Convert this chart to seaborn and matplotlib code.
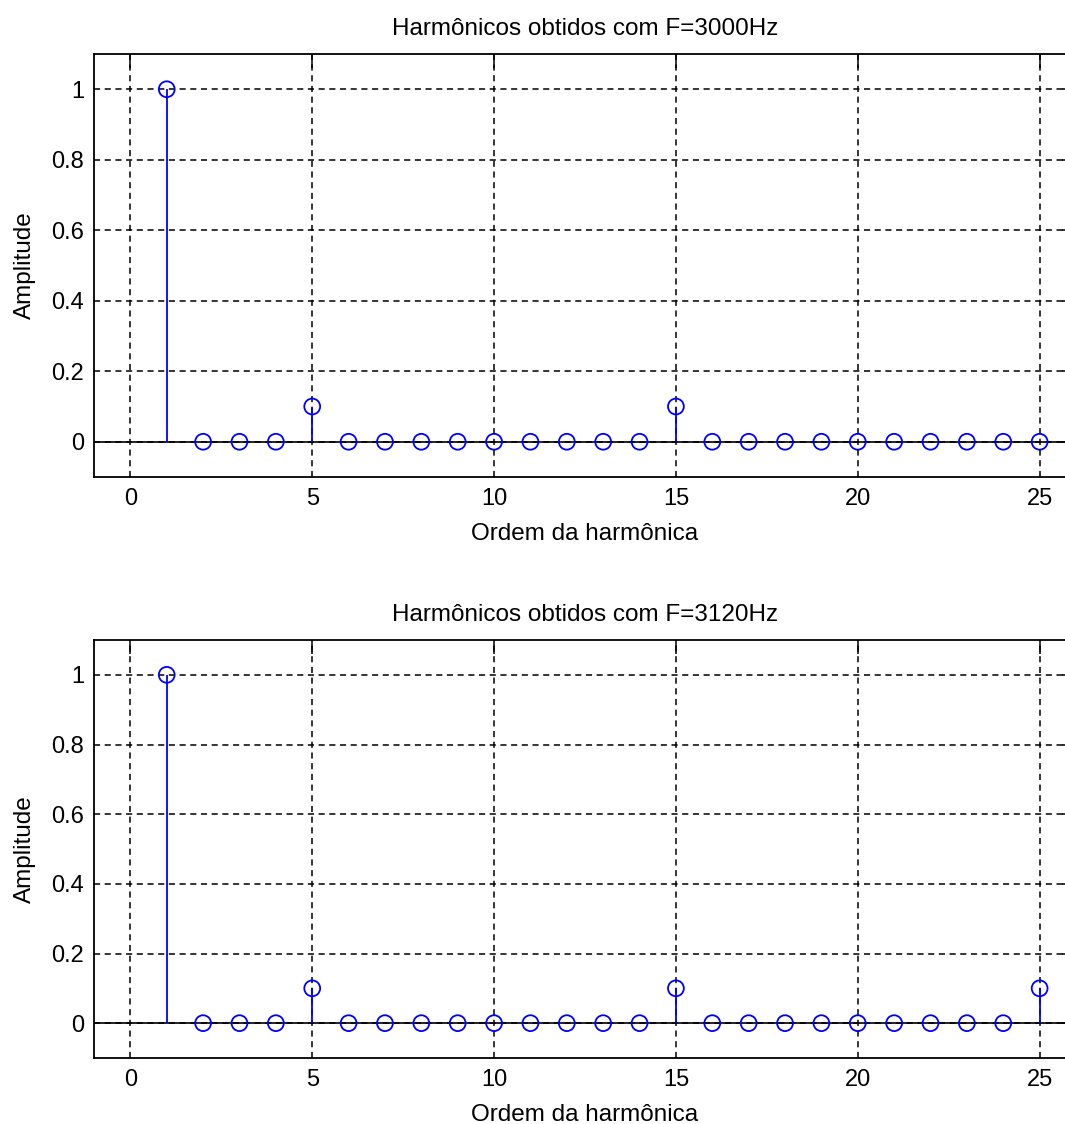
import matplotlib
matplotlib.use('Agg')
import matplotlib.pyplot as plt
import seaborn as sns
import numpy as np

# harmonic order and amplitudes
harmonics = list(range(1, 26))
amp_3000 = [1.0, 0, 0, 0, 0.1, 0, 0, 0, 0, 0, 0, 0, 0, 0, 0.1,
            0, 0, 0, 0, 0, 0, 0, 0, 0, 0]
amp_3120 = [1.0, 0, 0, 0, 0.1, 0, 0, 0, 0, 0, 0, 0, 0, 0, 0.1,
            0, 0, 0, 0, 0, 0, 0, 0, 0, 0.1]
titles = ['Harmônicos obtidos com F=3000Hz', 'Harmônicos obtidos com F=3120Hz']
x_ticks = [0, 5, 10, 15, 20, 25]
y_ticks = [0, 0.2, 0.4, 0.6, 0.8, 1]
y_ticklabels = ['0', '0.2', '0.4', '0.6', '0.8', '1']

sns.set_theme(style='white')
plt.rcParams['font.family'] = ['Liberation Sans', 'DejaVu Sans']
plt.rcParams['axes.edgecolor'] = 'black'

fig = plt.figure(figsize=(10.65, 11.24), dpi=100)
W, H = 1065, 1124
# axes boxes in pixels: left, top, right, bottom (right edge runs past the image)
boxes = [(94, 54, 1076, 477), (94, 640, 1076, 1058)]
fs = 17

for (l, t, r, b), amps, title in zip(boxes, [amp_3000, amp_3120], titles):
    ax = fig.add_axes([l / W, 1 - b / H, (r - l) / W, (b - t) / H])

    # grid
    for xv in x_ticks:
        ax.axvline(xv, color='black', lw=1.1, ls=(0, (4, 3)), zorder=1)
    for yv in y_ticks:
        ax.axhline(yv, color='black', lw=1.1, ls=(0, (4, 3)), zorder=1)

    # baseline and stems
    ax.axhline(0, color='black', lw=1.2, zorder=2)
    ax.vlines(harmonics, 0, amps, color='#0000ff', lw=1.3, zorder=3)
    sns.scatterplot(x=harmonics, y=amps, ax=ax, marker='o', s=130,
                    facecolor='none', edgecolor='#0000ff', linewidth=1.3,
                    zorder=4, legend=False, clip_on=False)

    ax.set_xlim(-1, 26)
    ax.set_ylim(-0.1, 1.1)
    ax.set_xticks(x_ticks)
    ax.set_yticks(y_ticks)
    ax.set_yticklabels(y_ticklabels)
    ax.tick_params(direction='in', length=10, width=1.1, colors='black',
                   labelsize=fs, top=True, right=True)
    ax.tick_params(axis='x', pad=8)
    ax.tick_params(axis='y', pad=7)
    for sp in ax.spines.values():
        sp.set_linewidth(1.3)
        sp.set_color('black')

    ax.set_title(title, fontsize=17.5, pad=14, color='black')
    ax.set_xlabel('Ordem da harmônica', fontsize=17.5, labelpad=9, color='black')
    ax.set_ylabel('Amplitude', fontsize=17.5, labelpad=11, color='black')

fig.savefig('out.png', dpi=100)
